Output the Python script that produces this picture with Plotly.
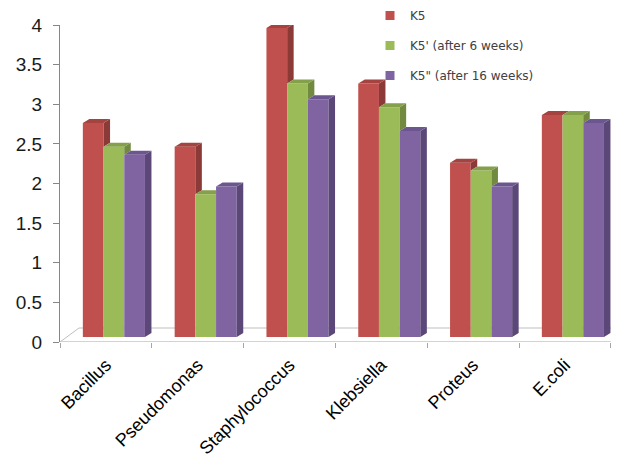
import plotly.graph_objects as go

categories = ["Bacillus", "Pseudomonas", "Staphylococcus", "Klebsiella", "Proteus", "E.coli"]
series_names = ["K5", "K5' (after 6 weeks)", "K5\" (after 16 weeks)"]
k5 = [2.7, 2.4, 3.9, 3.2, 2.2, 2.8]
k5_6w = [2.4, 1.8, 3.2, 2.9, 2.1, 2.8]
k5_16w = [2.3, 1.9, 3.0, 2.6, 1.9, 2.7]
y_ticks = [0, 0.5, 1, 1.5, 2, 2.5, 3, 3.5, 4]

front_colors = ["#C0504D", "#9BBB59", "#8064A2"]
side_colors = ["#8C3A38", "#718A3F", "#5B4778"]
top_colors = ["#A4433F", "#84A04A", "#6C5690"]

# layout geometry (the page has an 8px body margin, so the figure is offset)
OFF = 8
W, H = 619 - OFF, 461 - OFF
L, R, T = 60 - OFF, 0, 25 - OFF
B = H - (342 - OFF)
PW, PH = W - L - R, H - T - B
slot_px = 91.8
unit_y_px = PH / 4.0
xmax = -0.5 + PW / slot_px

bar_w = 20.7 / slot_px
grp_shift = 8.0 / slot_px
base = 5.0 / unit_y_px
dx = 6.5 / slot_px
dy = 4.0 / unit_y_px
floor_dx = 19.0 / slot_px
floor_dy = 14.0 / unit_y_px

values = [k5, k5_6w, k5_16w]
fig = go.Figure()

# front faces
for k, vals in enumerate(values):
    xs = [i + grp_shift + (k - 1) * bar_w for i in range(len(categories))]
    fig.add_trace(go.Bar(
        x=xs, y=vals, base=[base] * len(vals), width=bar_w,
        marker=dict(color=front_colors[k], line=dict(width=0)),
        name=series_names[k], showlegend=False, hoverinfo="skip"))

# side and top faces (visible portions only)
for k, vals in enumerate(values):
    sx, sy, tx, ty = [], [], [], []
    for i, v in enumerate(vals):
        xc = i + grp_shift + (k - 1) * bar_w
        xl, xr = xc - bar_w / 2, xc + bar_w / 2
        t = base + v
        if k == 2:
            lo = base
            tn = None
        else:
            tn = base + values[k + 1][i]
            lo = tn
        if k == 2 or t > tn:
            sx += [xr, xr + dx, xr + dx, xr, xr, None]
            sy += [lo, lo + dy, t + dy, t, lo, None]
        if k == 2 or t >= tn:
            tx += [xl, xl + dx, xr + dx, xr, xl, None]
        else:
            tx += [xl, xl + dx, xr, xr, xl, None]
        ty += [t, t + dy, t + dy, t, t, None]
    fig.add_trace(go.Scatter(x=sx, y=sy, mode="lines", fill="toself",
                             fillcolor=side_colors[k], line=dict(width=0),
                             showlegend=False, hoverinfo="skip"))
    fig.add_trace(go.Scatter(x=tx, y=ty, mode="lines", fill="toself",
                             fillcolor=top_colors[k], line=dict(width=0),
                             showlegend=False, hoverinfo="skip"))

# legend entries
for k in range(3):
    fig.add_trace(go.Scatter(x=[None], y=[None], mode="markers",
                             marker=dict(symbol="square", size=9, color=front_colors[k]),
                             name=series_names[k], legendgroup=f"g{k}", showlegend=True))

# floor
floor_col = "#BFBFBF"
fig.add_shape(type="line", x0=-0.5, y0=0, x1=5.5, y1=0, xref="x", yref="y",
              layer="below", line=dict(color="#A6A6A6", width=1))
for (x0, y0, x1, y1) in [(-0.5, 0, -0.5 + floor_dx, floor_dy),
                         (-0.5 + floor_dx, floor_dy, 5.5 + floor_dx, floor_dy),
                         (5.5, 0, 5.5 + floor_dx, floor_dy)]:
    fig.add_shape(type="line", x0=x0, y0=y0, x1=x1, y1=y1, xref="x", yref="y",
                  layer="below", line=dict(color=floor_col, width=1))

leg_left = 370 - OFF
leg_top = -7 - OFF + 8
fig.update_layout(
    width=W, height=H,
    margin=dict(l=L, r=R, t=T, b=B, pad=0, autoexpand=False),
    paper_bgcolor="white", plot_bgcolor="white",
    barmode="overlay",
    font=dict(family="Arial, Liberation Sans, sans-serif", color="#000000"),
    legend=dict(x=(leg_left - L) / PW, y=1 + (T - leg_top) / PH,
                xanchor="left", yanchor="top", xref="paper", yref="paper",
                font=dict(family="DejaVu Sans, Verdana, sans-serif", size=12, color="#404040"),
                bgcolor="rgba(0,0,0,0)", traceorder="grouped", tracegroupgap=11),
    showlegend=True,
)

fig.update_xaxes(
    range=[-0.5, xmax], showline=False, showgrid=False, zeroline=False,
    tickmode="array", tickvals=list(range(len(categories))), ticktext=categories,
    tickangle=-45, ticks="", tickfont=dict(size=18, color="#000000"),
    ticklabelstandoff=8,
    minor=dict(tickmode="array", tickvals=[i - 0.5 for i in range(len(categories) + 1)],
               ticks="outside", ticklen=5, tickcolor="#A6A6A6", tickwidth=1, showgrid=False),
    automargin=False, fixedrange=True,
)
fig.update_yaxes(
    range=[0, 4], showline=True, linecolor="#868686", linewidth=1,
    showgrid=False, zeroline=False,
    tickmode="array", tickvals=y_ticks, ticktext=[f"{v:g}" for v in y_ticks],
    ticks="outside", ticklen=6, tickcolor="#868686",
    tickfont=dict(size=19, color="#1a1a1a"), ticklabelstandoff=7,
    automargin=False, fixedrange=True,
)

fig.write_html("out.html")
